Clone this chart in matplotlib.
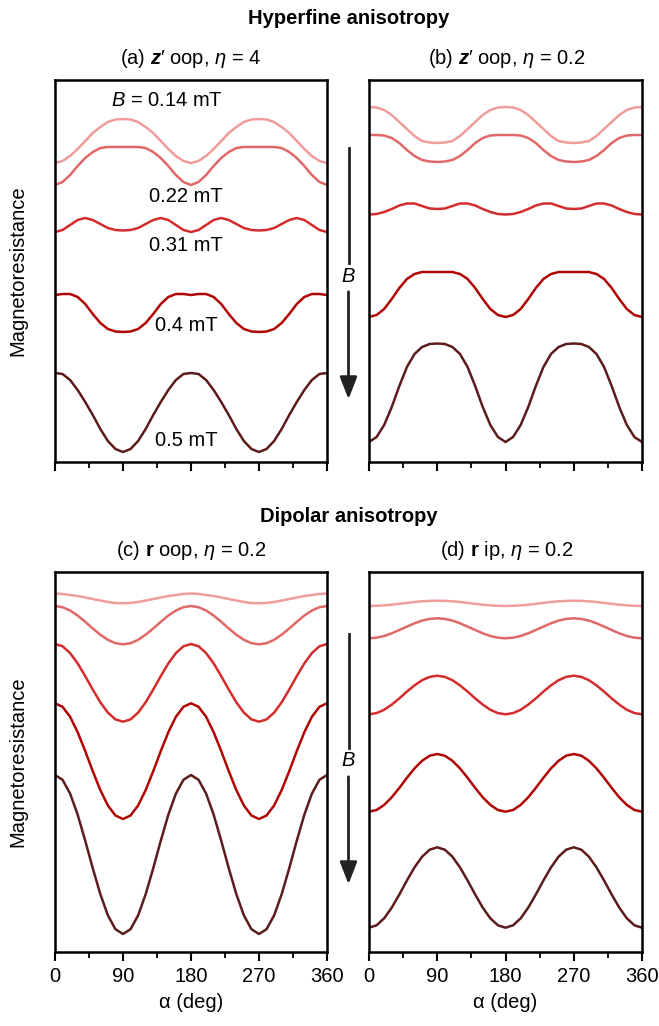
import matplotlib
matplotlib.use("Agg")
import matplotlib.pyplot as plt
from matplotlib.ticker import MultipleLocator

plt.rcParams['font.family'] = ['Liberation Sans', 'DejaVu Sans']
plt.rcParams['mathtext.fontset'] = 'custom'
plt.rcParams['mathtext.it'] = 'Liberation Sans:italic'
plt.rcParams['mathtext.bf'] = 'Liberation Sans:bold'
plt.rcParams['mathtext.bfit'] = 'Liberation Sans:italic:bold'
plt.rcParams['mathtext.rm'] = 'Liberation Sans'

# angle samples (deg)
alpha = list(range(0, 361, 10))

# magnetoresistance curves (arbitrary units, offset for display), B = 0.14 .. 0.5 mT
# (a) hyperfine, z' oop, eta = 4
a_014 = [299, 301, 306, 313, 321, 329, 335, 340, 342.5, 343, 342.5, 340, 335, 329, 321, 313, 306, 301, 299,
         301, 306, 313, 321, 329, 335, 340, 342.5, 343, 342.5, 340, 335, 329, 321, 313, 306, 301, 299]
a_022 = [277, 280, 287, 296, 304, 310, 314, 315, 315, 315, 315, 315, 314, 310, 304, 296, 287, 280, 277,
         280, 287, 296, 304, 310, 314, 315, 315, 315, 315, 315, 314, 310, 304, 296, 287, 280, 277]
a_031 = [230, 232, 237, 242, 244, 242, 238, 234, 232, 231.5, 232, 234, 238, 242, 244, 242, 237, 232, 230,
         232, 237, 242, 244, 242, 238, 234, 232, 231.5, 232, 234, 238, 242, 244, 242, 237, 232, 230]
a_040 = [167, 168, 168, 165, 158, 148, 139, 133, 130.5, 130, 130.5, 133, 139, 148, 158, 165, 168, 168, 167,
         168, 168, 165, 158, 148, 139, 133, 130.5, 130, 130.5, 133, 139, 148, 158, 165, 168, 168, 167]
a_050 = [89, 88, 82, 72, 60, 47, 33, 21, 13, 10, 13, 21, 33, 47, 60, 72, 82, 88, 89,
         88, 82, 72, 60, 47, 33, 21, 13, 10, 13, 21, 33, 47, 60, 72, 82, 88, 89]

# (b) hyperfine, z' oop, eta = 0.2
b_014 = [355, 354.5, 352, 347, 340, 333, 326, 321, 319.5, 319, 319.5, 321, 326, 333, 340, 347, 352, 354.5, 355,
         354.5, 352, 347, 340, 333, 326, 321, 319.5, 319, 319.5, 321, 326, 333, 340, 347, 352, 354.5, 355]
b_022 = [327, 327, 326.5, 324, 319, 312, 306, 302, 300.5, 300, 300.5, 302, 306, 312, 319, 324, 326.5, 327, 327,
         327, 326.5, 324, 319, 312, 306, 302, 300.5, 300, 300.5, 302, 306, 312, 319, 324, 326.5, 327, 327]
b_031 = [247.5, 248, 250, 253, 256.5, 258.5, 258.5, 256, 253.5, 253, 253.5, 256, 258.5, 258.5, 256.5, 253, 250, 248, 247.5,
         248, 250, 253, 256.5, 258.5, 258.5, 256, 253.5, 253, 253.5, 256, 258.5, 258.5, 256.5, 253, 250, 248, 247.5]
b_040 = [145, 147, 153, 163, 174, 183, 188, 190, 190, 190, 190, 190, 188, 183, 174, 163, 153, 147, 145,
         147, 153, 163, 174, 183, 188, 190, 190, 190, 190, 190, 188, 183, 174, 163, 153, 147, 145]
b_050 = [20, 25, 37, 55, 76, 95, 108, 115, 118, 118.5, 118, 115, 108, 95, 76, 55, 37, 25, 20,
         25, 37, 55, 76, 95, 108, 115, 118, 118.5, 118, 115, 108, 95, 76, 55, 37, 25, 20]

# (c) dipolar, r oop, eta = 0.2
c_014 = [358.5, 358, 357, 356, 354.5, 353, 351.5, 350, 349, 348.7, 349, 350, 351.5, 353, 354.5, 356, 357, 358, 358.5,
         358, 357, 356, 354.5, 353, 351.5, 350, 349, 348.7, 349, 350, 351.5, 353, 354.5, 356, 357, 358, 358.5]
c_022 = [346, 344.8, 341.5, 336.4, 330.2, 323.5, 317.3, 312.2, 308.8, 307.7, 308.8, 312.2, 317.3, 323.5, 330.2, 336.4, 341.5, 344.8, 346,
         344.8, 341.5, 336.4, 330.2, 323.5, 317.3, 312.2, 308.8, 307.7, 308.8, 312.2, 317.3, 323.5, 330.2, 336.4, 341.5, 344.8, 346]
c_031 = [308, 305.7, 298.9, 288.6, 275.9, 262.4, 249.7, 239.4, 232.6, 230.3, 232.6, 239.4, 249.7, 262.4, 275.9, 288.6, 298.9, 305.7, 308,
         305.7, 298.9, 288.6, 275.9, 262.4, 249.7, 239.4, 232.6, 230.3, 232.6, 239.4, 249.7, 262.4, 275.9, 288.6, 298.9, 305.7, 308]
c_040 = [248.7, 245.2, 235.2, 219.8, 200.9, 180.8, 161.9, 146.5, 136.5, 133, 136.5, 146.5, 161.9, 180.8, 200.9, 219.8, 235.2, 245.2, 248.7,
         245.2, 235.2, 219.8, 200.9, 180.8, 161.9, 146.5, 136.5, 133, 136.5, 146.5, 161.9, 180.8, 200.9, 219.8, 235.2, 245.2, 248.7]
c_050 = [177, 172.2, 158.4, 137.3, 111.3, 83.7, 57.8, 36.6, 22.8, 18, 22.8, 36.6, 57.8, 83.7, 111.3, 137.3, 158.4, 172.2, 177,
         172.2, 158.4, 137.3, 111.3, 83.7, 57.8, 36.6, 22.8, 18, 22.8, 36.6, 57.8, 83.7, 111.3, 137.3, 158.4, 172.2, 177]

# (d) dipolar, r ip, eta = 0.2
d_014 = [346, 346.2, 346.6, 347.3, 348.2, 349.1, 350, 350.7, 351.1, 351.3, 351.1, 350.7, 350, 349.1, 348.2, 347.3, 346.6, 346.2, 346,
         346.2, 346.6, 347.3, 348.2, 349.1, 350, 350.7, 351.1, 351.3, 351.1, 350.7, 350, 349.1, 348.2, 347.3, 346.6, 346.2, 346]
d_022 = [313.7, 314.3, 316, 318.7, 322, 325.4, 328.7, 331.4, 333.1, 333.7, 333.1, 331.4, 328.7, 325.4, 322, 318.7, 316, 314.3, 313.7,
         314.3, 316, 318.7, 322, 325.4, 328.7, 331.4, 333.1, 333.7, 333.1, 331.4, 328.7, 325.4, 322, 318.7, 316, 314.3, 313.7]
d_031 = [237.7, 238.9, 242.2, 247.4, 253.6, 260.4, 266.6, 271.8, 275.1, 276.3, 275.1, 271.8, 266.6, 260.4, 253.6, 247.4, 242.2, 238.9, 237.7,
         238.9, 242.2, 247.4, 253.6, 260.4, 266.6, 271.8, 275.1, 276.3, 275.1, 271.8, 266.6, 260.4, 253.6, 247.4, 242.2, 238.9, 237.7]
d_040 = [140.3, 142, 147.1, 154.7, 164.1, 174.2, 183.6, 191.2, 196.3, 198, 196.3, 191.2, 183.6, 174.2, 164.1, 154.7, 147.1, 142, 140.3,
         142, 147.1, 154.7, 164.1, 174.2, 183.6, 191.2, 196.3, 198, 196.3, 191.2, 183.6, 174.2, 164.1, 154.7, 147.1, 142, 140.3]
d_050 = [24.3, 26.7, 33.7, 44.4, 57.5, 71.5, 84.6, 95.3, 102.3, 104.7, 102.3, 95.3, 84.6, 71.5, 57.5, 44.4, 33.7, 26.7, 24.3,
         26.7, 33.7, 44.4, 57.5, 71.5, 84.6, 95.3, 102.3, 104.7, 102.3, 95.3, 84.6, 71.5, 57.5, 44.4, 33.7, 26.7, 24.3]

colors = ['#EF9C9C', '#E06868', '#D42C2C', '#B00606', '#5C1C1C']
field_labels = [r'$B$ = 0.14 mT', '0.22 mT', '0.31 mT', '0.4 mT', '0.5 mT']

FS = 14.5
W, H = 659, 1026
fig = plt.figure(figsize=(W / 100, H / 100), dpi=100)


def px_axes(left, top, right, bottom):
    return fig.add_axes([left / W, 1 - bottom / H, (right - left) / W, (bottom - top) / H])


def style(ax, ylim, labels=True):
    ax.set_xlim(0, 360)
    ax.set_ylim(*ylim)
    for s in ax.spines.values():
        s.set_linewidth(1.8)
    ax.set_yticks([])
    ax.xaxis.set_major_locator(MultipleLocator(90))
    ax.xaxis.set_minor_locator(MultipleLocator(45))
    ax.tick_params(axis='x', which='major', direction='out', length=6.5, width=1.5, labelsize=FS, pad=4)
    ax.tick_params(axis='x', which='minor', direction='out', length=4, width=1.3)
    if labels:
        ax.set_xlabel(r'α (deg)', fontsize=FS, labelpad=5)
    else:
        ax.set_xticklabels([])


panels = [
    ((55, 80, 327, 462), [a_014, a_022, a_031, a_040, a_050], (0, 382), False),
    ((369, 80, 642, 462), [b_014, b_022, b_031, b_040, b_050], (0, 382), False),
    ((55, 572, 327, 952), [c_014, c_022, c_031, c_040, c_050], (0, 380), True),
    ((369, 572, 642, 952), [d_014, d_022, d_031, d_040, d_050], (0, 380), True),
]

axes = []
for box, curves, ylim, lab in panels:
    ax = px_axes(*box)
    for ys, c in zip(curves, colors):
        ax.plot(alpha, ys, color=c, lw=1.8, solid_joinstyle='round')
    style(ax, ylim, lab)
    axes.append(ax)

for ax in (axes[0], axes[2]):
    ax.set_ylabel('Magnetoresistance', fontsize=FS)
    ax.yaxis.set_label_coords(-0.10, 0.5)

# field labels in panel (a)
lab_pos = [(167, 100), (186, 197), (186, 246), (186, 326), (186, 440)]
for (x, y), t in zip(lab_pos, field_labels):
    fig.text(x / W, 1 - y / H, t, fontsize=FS, ha='center', va='center')


def ftext(x, y, s, **kw):
    fig.text(x / W, 1 - y / H, s, ha='center', va='center', **kw)


ftext(348.5, 18, 'Hyperfine anisotropy', fontsize=FS, fontweight='bold')
ftext(191, 58, r"(a) $\mathbfit{z}$′ oop, $\eta$ = 4", fontsize=FS)
ftext(507, 58, r"(b) $\mathbfit{z}$′ oop, $\eta$ = 0.2", fontsize=FS)
ftext(348.5, 517, 'Dipolar anisotropy', fontsize=FS, fontweight='bold')
ftext(191, 550, r"(c) $\mathbf{r}$ oop, $\eta$ = 0.2", fontsize=FS)
ftext(507, 550, r"(d) $\mathbf{r}$ ip, $\eta$ = 0.2", fontsize=FS)

# field arrows between panels
for top, gap0, gap1, tip in [(148, 263, 289, 402), (634, 748, 774, 887)]:
    x = 348.5 / W
    fig.add_artist(plt.Line2D([x, x], [1 - top / H, 1 - gap0 / H], color='#222222', lw=2))
    fig.add_artist(matplotlib.patches.FancyArrowPatch(
        (x, 1 - gap1 / H), (x, 1 - tip / H), transform=fig.transFigure,
        arrowstyle='-|>,head_length=9,head_width=3.5', mutation_scale=1.5, color='#222222', lw=2))
    ftext(348.5, (gap0 + gap1) / 2, r'$B$', fontsize=FS)

fig.savefig('out.png', dpi=100)
